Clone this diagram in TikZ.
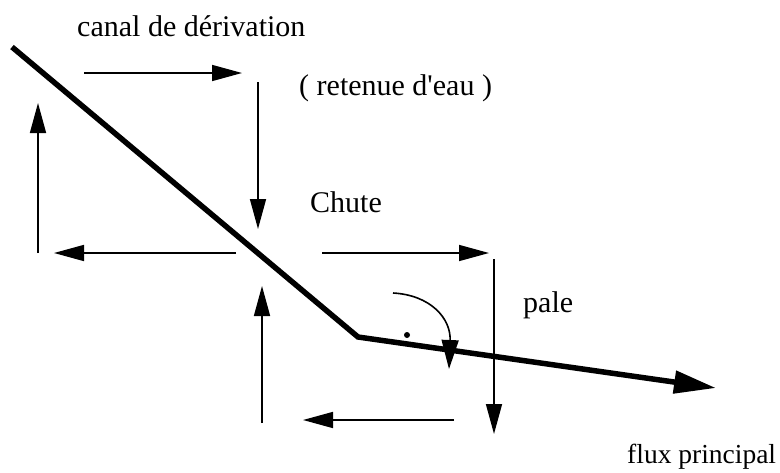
\documentclass[tikz,border=0pt]{standalone}
\usepackage{fontspec}
\setmainfont{Liberation Serif}
\usetikzlibrary{arrows.meta,positioning}

\begin{document}
\begin{tikzpicture}[x=1pt,y=-1pt,
    flow/.style={line width=1.6pt,-{Triangle[length=30pt,width=16pt]}},
    canal/.style={line width=5.5pt,line join=miter,-{Triangle[length=42pt,width=22pt]}},
    lbl/.style={font=\fontsize{30}{35}\selectfont,inner sep=0pt,anchor=base west}
  ]
  \useasboundingbox (0,0) rectangle (780,472);
  % canal (thick line)
  \coordinate (C0) at (12,47);
  \coordinate (C1) at (358,337);
  \coordinate (C2) at (716,388);
  \draw[canal] (C0) -- (C1) -- (C2);
  % circulation arrows
  \coordinate (A1) at (84,73);   \coordinate (B1) at (242,73);
  \coordinate (A2) at (258,82);  \coordinate (B2) at (258,229);
  \coordinate (A3) at (236,253); \coordinate (B3) at (54,253);
  \coordinate (A4) at (38,253);  \coordinate (B4) at (38,103);
  \coordinate (A5) at (322,253); \coordinate (B5) at (489,253);
  \coordinate (A6) at (494,259); \coordinate (B6) at (494,434);
  \coordinate (A7) at (454,420); \coordinate (B7) at (303,420);
  \coordinate (A8) at (262,423); \coordinate (B8) at (262,286);
  \draw[flow] (A1) -- (B1);
  \draw[flow] (A2) -- (B2);
  \draw[flow] (A3) -- (B3);
  \draw[flow] (A4) -- (B4);
  \draw[flow] (A5) -- (B5);
  \draw[flow] (A6) -- (B6);
  \draw[flow] (A7) -- (B7);
  \draw[flow] (A8) -- (B8);
  % rotation
  \coordinate (R0) at (393,293);
  \coordinate (R1) at (449,369);
  \draw[line width=1.6pt,-{Triangle[length=29pt,width=17pt]}]
    (R0) .. controls (430,295) and (451,318) .. (R1);
  \fill (407,335) circle (3pt);
  % labels
  \node[lbl] (canalt) at (77,36)   {canal de dérivation};
  \node[lbl] (retenue) at (299,95) {( retenue d\textquotesingle eau )};
  \node[lbl] (chute) at (310,212)  {Chute};
  \node[lbl] (pale) at (523,312)   {pale};
  \node[lbl,font=\fontsize{27.5}{32}\selectfont] (flux) at (627,463) {flux principal};
\end{tikzpicture}
\end{document}
